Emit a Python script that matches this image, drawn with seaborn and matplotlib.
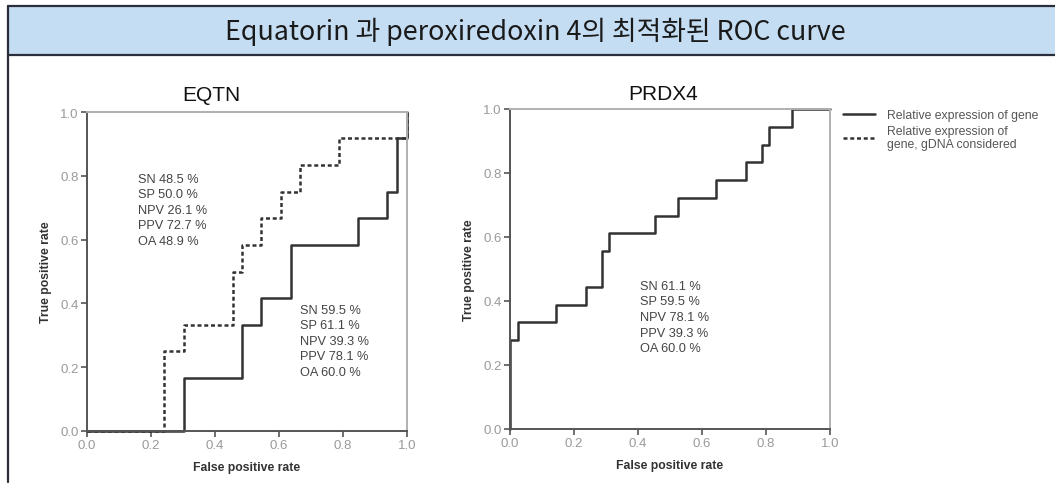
import matplotlib
matplotlib.use("Agg")
import matplotlib.pyplot as plt
from matplotlib.patches import Rectangle
from matplotlib.lines import Line2D
import seaborn as sns
import pandas as pd

# ---- data ----
eqtn_fpr = [0.0, 0.303, 0.485, 0.545, 0.636, 0.848, 0.939, 0.970, 1.0]
eqtn_tpr = [0.0, 0.167, 0.333, 0.417, 0.583, 0.667, 0.750, 0.917, 1.0]

eqtn_g_fpr = [0.0, 0.242, 0.303, 0.455, 0.485, 0.545, 0.606, 0.667, 0.788, 1.0]
eqtn_g_tpr = [0.0, 0.250, 0.333, 0.500, 0.583, 0.667, 0.750, 0.833, 0.917, 1.0]

prdx4_fpr = [0.0, 0.0, 0.024, 0.143, 0.238, 0.286, 0.310, 0.452, 0.524, 0.643, 0.738, 0.786, 0.810, 0.881, 1.0]
prdx4_tpr = [0.0, 0.278, 0.333, 0.389, 0.444, 0.556, 0.611, 0.667, 0.722, 0.778, 0.833, 0.889, 0.944, 1.0, 1.0]

eqtn_stats_gdna = ["SN 48.5 %", "SP 50.0 %", "NPV 26.1 %", "PPV 72.7 %", "OA 48.9 %"]
eqtn_stats_gene = ["SN 59.5 %", "SP 61.1 %", "NPV 39.3 %", "PPV 78.1 %", "OA 60.0 %"]
prdx4_stats_gene = ["SN 61.1 %", "SP 59.5 %", "NPV 78.1 %", "PPV 39.3 %", "OA 60.0 %"]

ticks = [0.0, 0.2, 0.4, 0.6, 0.8, 1.0]
tick_labels = ["0.0", "0.2", "0.4", "0.6", "0.8", "1.0"]

header = "Equatorin 과 peroxiredoxin 4의 최적화된 ROC curve"
legend_labels = ["Relative expression of gene", "Relative expression of\ngene, gDNA considered"]

# ---- style ----
sns.set_style("white")
plt.rcParams['font.family'] = ['Liberation Sans', 'DejaVu Sans']

W, H = 1055, 485
fig = plt.figure(figsize=(W / 100, H / 100), dpi=100)
fig.patch.set_facecolor("white")

# header bar and frame
fig.patches.append(Rectangle((8 / W, 1 - 56 / H), 1 - 8 / W, 49 / H, transform=fig.transFigure,
                             facecolor="#c4ddf3", edgecolor="none", zorder=0))
fig.add_artist(Line2D([8 / W, 1], [1 - 56 / H, 1 - 56 / H], transform=fig.transFigure,
                      color="#2a2d3a", lw=1.6))
fig.add_artist(Line2D([8 / W, 1], [1 - 7 / H, 1 - 7 / H], transform=fig.transFigure,
                      color="#2a2d3a", lw=1.6))
fig.add_artist(Line2D([8 / W, 8 / W], [2 / H, 1 - 7 / H], transform=fig.transFigure,
                      color="#2a2d3a", lw=1.6))
fig.text(535 / W, 1 - 32 / H, header, ha="center", va="center", fontsize=19.3,
         family=['Noto Sans CJK KR', 'DejaVu Sans'], color="#1a1a1a")

line_color = "#333333"


def style_axes(ax, title, title_x, title_y):
    ax.set_xlim(0, 1)
    ax.set_ylim(0, 1)
    ax.set_xticks(ticks)
    ax.set_xticklabels(tick_labels)
    ax.set_yticks(ticks)
    ax.set_yticklabels(tick_labels)
    for s in ["left", "bottom"]:
        ax.spines[s].set_color("#555555")
        ax.spines[s].set_linewidth(1.4)
    for s in ["top", "right"]:
        ax.spines[s].set_color("#b0b0b0")
        ax.spines[s].set_linewidth(1.4)
    ax.tick_params(direction="out", length=4, width=1.2, color="#555555",
                   labelcolor="#9a9a9a", labelsize=9.5, pad=2)
    ax.xaxis.set_ticks_position("bottom")
    ax.yaxis.set_ticks_position("left")
    ax.set_xlabel("False positive rate", fontsize=8.8, fontweight="bold", color="#333333", labelpad=7)
    ax.set_ylabel("True positive rate", fontsize=8.8, fontweight="bold", color="#333333", labelpad=6)
    ax.text(title_x, title_y, title, transform=ax.transAxes, ha="center", va="center",
            fontsize=15, color="#111111")


# EQTN
ax1 = fig.add_axes([87 / W, 1 - 432 / H, 320 / W, 319 / H])
df1 = pd.DataFrame({"fpr": eqtn_fpr, "tpr": eqtn_tpr})
df1g = pd.DataFrame({"fpr": eqtn_g_fpr, "tpr": eqtn_g_tpr})
sns.lineplot(data=df1g, x="fpr", y="tpr", ax=ax1, sort=False, estimator=None,
             drawstyle="steps-post", color=line_color, lw=1.8, linestyle=(0, (1.6, 1.1)),
             clip_on=False)
sns.lineplot(data=df1, x="fpr", y="tpr", ax=ax1, sort=False, estimator=None,
             drawstyle="steps-post", color=line_color, lw=1.8, clip_on=False)
style_axes(ax1, "EQTN", 0.39, 1.056)
for i, t in enumerate(eqtn_stats_gdna):
    ax1.text(0.16, 0.79 - i * 0.0485, t, transform=ax1.transAxes, fontsize=9.2, color="#444444",
             va="center", ha="left")
for i, t in enumerate(eqtn_stats_gene):
    ax1.text(0.665, 0.38 - i * 0.0485, t, transform=ax1.transAxes, fontsize=9.2, color="#444444",
             va="center", ha="left")

# PRDX4
ax2 = fig.add_axes([510 / W, 1 - 430 / H, 320 / W, 320 / H])
df2 = pd.DataFrame({"fpr": prdx4_fpr, "tpr": prdx4_tpr})
sns.lineplot(data=df2, x="fpr", y="tpr", ax=ax2, sort=False, estimator=None,
             drawstyle="steps-post", color=line_color, lw=1.8, clip_on=False)
style_axes(ax2, "PRDX4", 0.48, 1.047)
for i, t in enumerate(prdx4_stats_gene):
    ax2.text(0.405, 0.447 - i * 0.0485, t, transform=ax2.transAxes, fontsize=9.2, color="#444444",
             va="center", ha="left")

# legend
handles = [Line2D([], [], color=line_color, lw=1.8),
           Line2D([], [], color=line_color, lw=1.8, linestyle=(0, (1.6, 1.1)))]
leg = fig.legend(handles, legend_labels, loc="upper left", bbox_to_anchor=(843 / W, 1 - 110 / H),
                 frameon=False, fontsize=8.8, handlelength=2.6, handletextpad=1.0,
                 labelspacing=0.3, borderaxespad=0, borderpad=0)
for t in leg.get_texts():
    t.set_color("#555555")
    t.set_linespacing(1.15)

fig.savefig("out.png", dpi=100)
